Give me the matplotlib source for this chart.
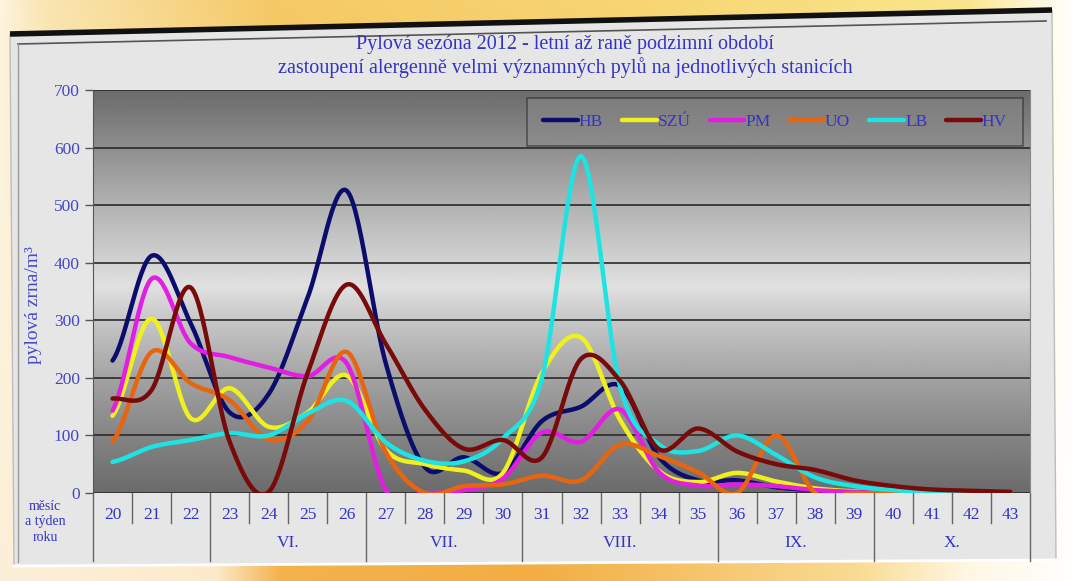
import numpy as np
import matplotlib.pyplot as plt
from matplotlib.patches import Polygon

# Týdny roku a měsíce
tydny = [str(t) for t in range(20, 44)]
mesice = ['VI.', 'VII.', 'VIII.', 'IX.', 'X.']
mesice_od_do = [(23, 26), (27, 30), (31, 35), (36, 39), (40, 43)]

stanice = ['HB', 'SZÚ', 'PM', 'UO', 'LB', 'HV']
barvy = ['#0c0c6c', '#f0f01e', '#e21ee2', '#e8650f', '#1ee3e3', '#780a0a']

# pylová zrna/m3 po týdnech 20-43
hb = [230, 412, 295, 140, 172, 340, 525, 225, 45, 62, 35, 125, 150, 186, 62, 22, 22, 10, 5, 3, 2, 1, 1, 0]
szu = [134, 303, 130, 182, 115, 140, 204, 75, 50, 39, 35, 209, 270, 127, 38, 19, 35, 20, 8, 3, 1, 0, 0, 0]
pm = [143, 372, 260, 236, 218, 203, 225, 5, 0, 5, 25, 105, 89, 145, 36, 13, 15, 12, 5, 2, 0, 0, 0, 0]
uo = [89, 245, 191, 161, 93, 125, 245, 71, 0, 12, 15, 30, 22, 84, 64, 36, 0, 100, 0, 0, 0, 0, 0, 0]
lb = [54, 80, 92, 104, 100, 138, 160, 88, 56, 55, 95, 200, 585, 185, 84, 73, 100, 66, 27, 12, 5, 2, 0, 0]
hv = [164, 179, 357, 89, 2, 209, 362, 259, 145, 77, 92, 62, 233, 195, 76, 112, 72, 50, 40, 22, 12, 6, 4, 2]
rady = [hb, szu, pm, uo, lb, hv]

MODRA = '#3434c4'
plt.rcParams['font.family'] = ['Liberation Serif', 'DejaVu Serif']


# vyhlazená čára (Catmull-Rom) přes body
def vyhladit(y, n=30):
    y = np.asarray(y, float)
    p = np.concatenate([[y[0]], y, [y[-1]]])
    t = np.linspace(0, 1, n, endpoint=False)
    xs, ys = [], []
    for i in range(len(y) - 1):
        p0, p1, p2, p3 = p[i], p[i + 1], p[i + 2], p[i + 3]
        v = 0.5 * (2 * p1 + (-p0 + p2) * t + (2 * p0 - 5 * p1 + 4 * p2 - p3) * t ** 2
                   + (-p0 + 3 * p1 - 3 * p2 + p3) * t ** 3)
        xs.append(i + t)
        ys.append(v)
    xs.append([len(y) - 1])
    ys.append([y[-1]])
    return np.concatenate(xs), np.concatenate(ys)


def prechod(x, body, barvy_bodu):
    barvy_bodu = np.array(barvy_bodu)
    return np.stack([np.interp(x, body, barvy_bodu[:, k]) for k in range(3)], axis=-1)


W, H = 1075, 581
fig = plt.figure(figsize=(W / 100, H / 100), dpi=100)

# pozadí - žlutooranžový přechod
pozadi = fig.add_axes([0, 0, 1, 1], zorder=-2)
x = np.linspace(0, 1, W)
horni = prechod(x, [0, 0.04, 0.25, 0.6, 0.9, 0.965, 1.0],
                [(0.99, 0.96, 0.88), (0.98, 0.90, 0.70), (0.96, 0.79, 0.40), (0.97, 0.84, 0.45),
                 (0.98, 0.90, 0.55), (1.0, 0.97, 0.86), (1.0, 1.0, 1.0)])
dolni = prechod(x, [0, 0.2, 0.26, 0.5, 0.8, 0.9, 1.0],
                [(0.99, 0.94, 0.85), (0.99, 0.92, 0.80), (0.96, 0.70, 0.30), (0.95, 0.68, 0.26),
                 (0.98, 0.86, 0.58), (1.0, 0.97, 0.90), (1.0, 1.0, 1.0)])
t = np.linspace(0, 1, H)[:, None, None]
obr = horni[None, :, :] * (1 - t) + dolni[None, :, :] * t
pozadi.imshow(obr, extent=[0, W, H, 0], aspect='auto')
pozadi.set_xlim(0, W)
pozadi.set_ylim(H, 0)
pozadi.axis('off')

# světlý panel s tmavým horním okrajem
pozadi.add_patch(Polygon([(10, 34), (1052, 10), (1056, 560), (14, 566)], closed=True,
                         facecolor='#e6e6e6', edgecolor='#bdbdbd', lw=1))
pozadi.plot([10, 1052], [34, 10], color='#111111', lw=4, solid_capstyle='butt')
pozadi.plot([18, 1046], [44, 21], color='#555555', lw=1.2)
pozadi.plot([18, 18], [44, 562], color='#9a9a9a', lw=1)
pozadi.plot([14, 1056], [566, 560], color='#ffffff', lw=2)

fig.text(565 / W, 1 - 45 / H, 'Pylová sezóna 2012 - letní až raně podzimní období',
         ha='center', va='center', fontsize=14.5, color=MODRA)
fig.text(565 / W, 1 - 68 / H, 'zastoupení alergenně velmi významných pylů na jednotlivých stanicích',
         ha='center', va='center', fontsize=14.5, color=MODRA)

ax = fig.add_axes([93 / W, 1 - 493 / H, (1030 - 93) / W, (493 - 90) / H])

# šedý přechod v ploše grafu
hodnoty = np.linspace(0, 700, 300)
jas = np.interp(hodnoty, [0, 100, 200, 300, 360, 420, 500, 600, 700],
                [0.42, 0.52, 0.64, 0.78, 0.88, 0.80, 0.70, 0.56, 0.42])
ax.imshow(jas[:, None], extent=[-0.5, len(tydny) - 0.5, 0, 700], origin='lower',
          aspect='auto', cmap='gray', vmin=0, vmax=1, zorder=0)

for y in range(0, 701, 100):
    ax.axhline(y, color='#2a2a2a', lw=1.2, zorder=1)

for jmeno, barva, rada in zip(stanice, barvy, rady):
    xs, ys = vyhladit(rada)
    ax.plot(xs, ys, color=barva, lw=3.2, label=jmeno, zorder=3, solid_capstyle='round')

ax.set_xlim(-0.5, len(tydny) - 0.5)
ax.set_ylim(0, 700)
ax.set_yticks(range(0, 701, 100))
ax.tick_params(axis='y', colors='#555555', labelcolor='#4646c8', labelsize=12.5, length=6, width=1)
ax.set_xticks([])
for s in ['top', 'bottom']:
    ax.spines[s].set_visible(False)
ax.spines['left'].set_color('#555555')
ax.spines['right'].set_color('#888888')

# popisky týdnů a měsíců pod osou
trans = ax.get_xaxis_transform()
for i, tyden in enumerate(tydny):
    ax.text(i, -0.055, tyden, transform=trans, ha='center', va='center', fontsize=12.5, color=MODRA)
hranice_mesicu = [-0.5] + [int(od) - 20 - 0.5 for od, do in mesice_od_do] + [len(tydny) - 0.5]
for i in range(len(tydny) + 1):
    xh = i - 0.5
    dolu = -0.168 if xh in hranice_mesicu else -0.075
    ax.plot([xh, xh], [0, dolu], transform=trans, color='#666666', lw=1, clip_on=False)
for m, (od, do) in zip(mesice, mesice_od_do):
    ax.text((od + do) / 2 - 20, -0.125, m, transform=trans, ha='center', va='center',
            fontsize=12.5, color=MODRA)

fig.text(45 / W, 1 - 522 / H, 'měsíc\na týden\nroku', ha='center', va='center',
         fontsize=10, color=MODRA, linespacing=1.25)
fig.text(33 / W, 1 - 305 / H, 'pylová zrna/m³', rotation=90, ha='center', va='center',
         fontsize=14, color='#4a4ac8')

leg = ax.legend(loc='center', bbox_to_anchor=(775 / W, 1 - 122 / H), bbox_transform=fig.transFigure,
                ncol=6, fontsize=12.5, handlelength=2.0, handletextpad=0.05, columnspacing=1.1,
                borderpad=0.9, fancybox=False, labelcolor=MODRA)
leg.get_frame().set_facecolor('#8a8a8a')
leg.get_frame().set_alpha(0.55)
leg.get_frame().set_edgecolor('#222222')
leg.get_frame().set_linewidth(1.2)
leg.set_zorder(5)

fig.savefig('out.png', dpi=100)
